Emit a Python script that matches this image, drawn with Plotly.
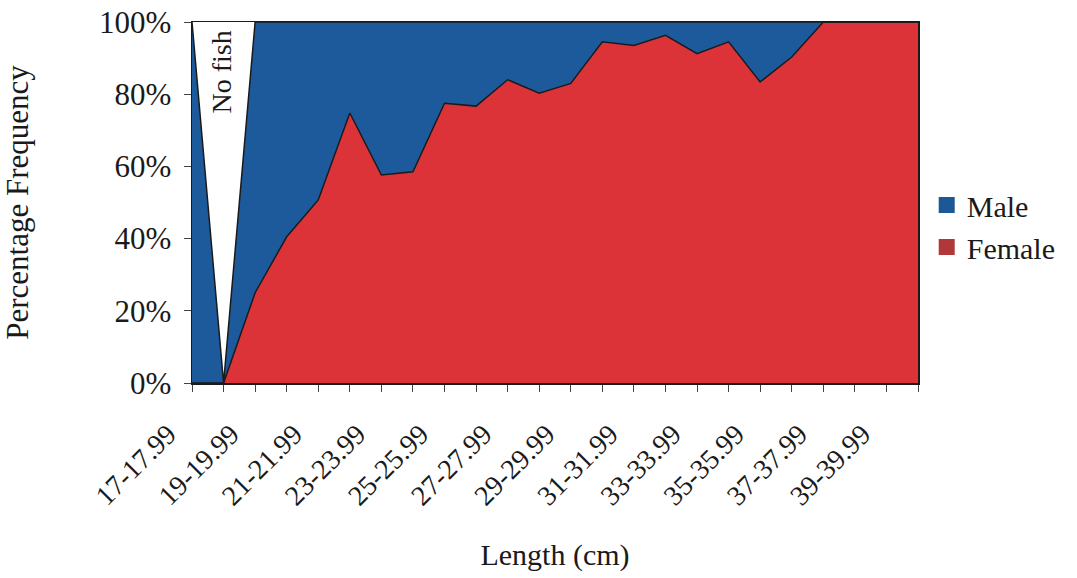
import plotly.graph_objects as go

categories = [f"{n}-{n}.99" for n in range(17, 41)]
female_pct = [0, 0, 25, 40.5, 50.7, 74.8, 57.6, 58.5, 77.5, 76.7, 84, 80.3,
              83, 94.5, 93.5, 96.3, 91.2, 94.5, 83.4, 90.3, 100, 100, 100, 100]
male_pct = [100, 0, 75, 59.5, 49.3, 25.2, 42.4, 41.5, 22.5, 23.3, 16, 19.7,
            17, 5.5, 6.5, 3.7, 8.8, 5.5, 16.6, 9.7, 0, 0, 0, 0]
tick_labels = [c if i % 2 == 0 else "" for i, c in enumerate(categories)]

FONT = "Liberation Serif, Times New Roman, serif"
TXT = "#1a1a1a"
BLUE = "#1d5a9c"
RED = "#dc3339"
f = lambda s: dict(family=FONT, size=s, color=TXT)

fig = go.Figure()
fig.add_trace(go.Scatter(x=categories, y=female_pct, name="Female", mode="lines",
                         stackgroup="one", line=dict(color=TXT, width=1.5),
                         fillcolor=RED, showlegend=False))
fig.add_trace(go.Scatter(x=categories, y=male_pct, name="Male", mode="lines",
                         stackgroup="one", line=dict(color=TXT, width=1.5),
                         fillcolor=BLUE, showlegend=False))
# legend entries (square swatches)
fig.add_trace(go.Scatter(x=[None], y=[None], name="Male", mode="markers",
                         marker=dict(symbol="square", size=23, color="#1c5896")))
fig.add_trace(go.Scatter(x=[None], y=[None], name="Female", mode="markers",
                         marker=dict(symbol="square", size=23, color="#b0383a")))

fig.add_annotation(x=0.92, y=86, xref="x", yref="y", text="No fish", textangle=-90,
                   showarrow=False, font=f(28))

fig.update_layout(
    width=1077, height=578,
    margin=dict(l=192, r=159, t=22, b=195, autoexpand=False),
    paper_bgcolor="white", plot_bgcolor="white",
    font=f(31),
    showlegend=True,
    legend=dict(x=1.012, y=0.435, xanchor="left", yanchor="middle",
                traceorder="normal", font=f(30), itemwidth=30,
                tracegroupgap=0, bgcolor="rgba(0,0,0,0)"),
    xaxis=dict(type="category", range=[0, 23], tickmode="array",
               tickvals=categories, ticktext=tick_labels, tickangle=-45,
               tickfont=f(28), automargin=False, ticklabeloverflow="allow",
               ticks="outside", ticklen=7, tickcolor="#444", showgrid=False,
               showline=True, linecolor=TXT, linewidth=1.5, mirror=True,
               ticklabelstandoff=15, ticklabelshift=-24,
               title=dict(text="Length (cm)", standoff=34, font=f(30))),
    yaxis=dict(range=[0, 100], dtick=20, ticksuffix="%", ticks="outside",
               tickfont=f(31), automargin=False, ticklabeloverflow="allow",
               ticklabelstandoff=6,
               ticklen=7, tickcolor="#444", showgrid=False, showline=True,
               linecolor=TXT, linewidth=1.5, mirror=True, zeroline=False,
               title=dict(text="Percentage Frequency", standoff=70, font=f(31))),
)

fig.write_html("out.html",
               config={"displayModeBar": False, "staticPlot": True},
               post_script="document.body.style.margin='0';"
                           "document.body.style.overflow='hidden';")
